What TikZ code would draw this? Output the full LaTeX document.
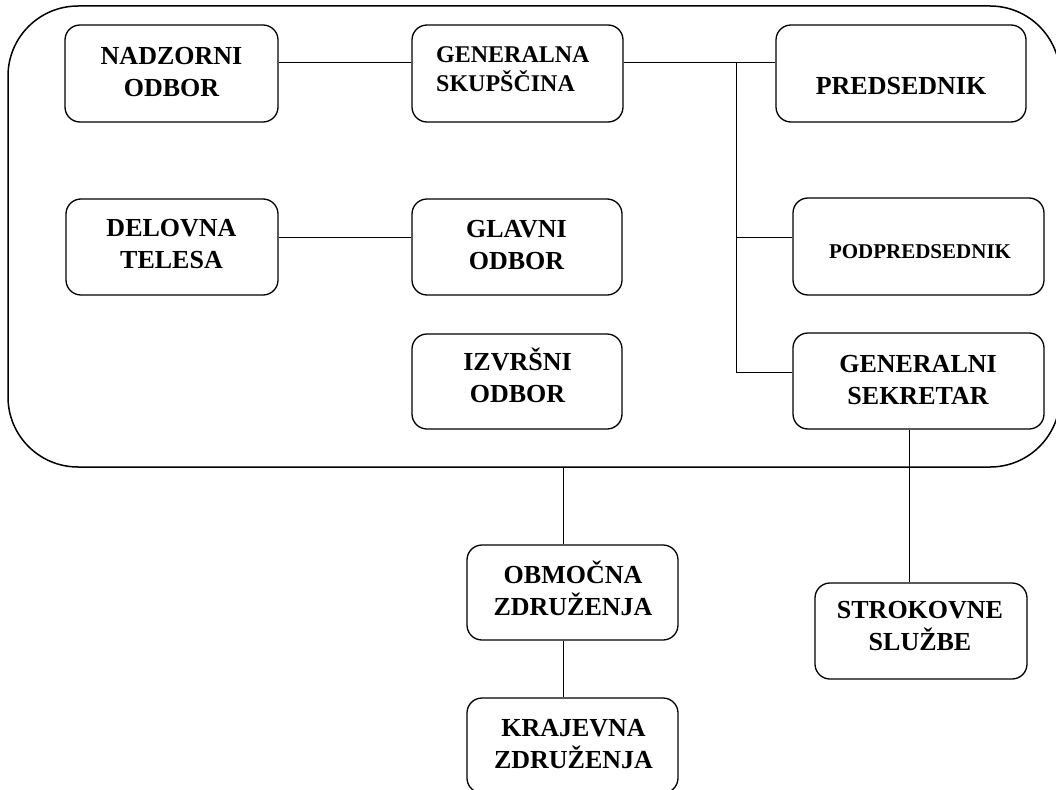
\documentclass[tikz,border=0pt]{standalone}
\usepackage{fontspec}
\setmainfont{Liberation Serif}
\begin{document}
\tikzset{
  box/.style={draw, rounded corners=15pt, line width=1.3pt, inner sep=0pt},
  txt/.style={font=\bfseries\fontsize{26}{32}\selectfont, align=center, inner sep=0pt},
  link/.style={line width=1pt},
}
\begin{tikzpicture}[x=1pt,y=-1pt]
\useasboundingbox (0,0) rectangle (1056,789);
% container
\node[draw, rounded corners=70pt, line width=1.5pt, minimum width=1052pt, minimum height=461pt, inner sep=0pt] (outer) at (534,236.5) {};
% boxes
\node[box, minimum width=213pt, minimum height=97pt] (nad) at (171.5,73.5) {};
\node[box, minimum width=211pt, minimum height=97pt] (gen) at (517.5,73.5) {};
\node[box, minimum width=250pt, minimum height=97pt] (pred) at (901,73.5) {};
\node[box, minimum width=212pt, minimum height=96pt] (del) at (172,247) {};
\node[box, minimum width=210pt, minimum height=96pt] (gla) at (517,247) {};
\node[box, minimum width=251pt, minimum height=97pt] (pod) at (918.5,246.5) {};
\node[box, minimum width=210pt, minimum height=95pt] (izv) at (517,381.5) {};
\node[box, minimum width=251pt, minimum height=96pt] (sek) at (918.5,381) {};
\node[box, minimum width=211pt, minimum height=95pt] (obm) at (572.5,592.5) {};
\node[box, minimum width=211pt, minimum height=95pt] (kra) at (572.5,745.5) {};
\node[box, minimum width=212pt, minimum height=96pt] (str) at (921,631) {};
% texts
\node[txt] (nadt) at (171.5,69) {\vphantom{Š}NADZORNI\\ODBOR};
\node[txt, font=\bfseries\fontsize{24}{29}\selectfont, align=left, anchor=west] (gent) at (436,66.5) {\vphantom{Š}GENERALNA\\SKUPŠČINA};
\node[txt] (predt) at (901,83.5) {\vphantom{Š}PREDSEDNIK};
\node[txt] (delt) at (171.5,241.5) {\vphantom{Š}DELOVNA\\TELESA};
\node[txt] (glat) at (516.5,242.3) {\vphantom{Š}GLAVNI\\ODBOR};
\node[txt, font=\bfseries\fontsize{21}{26}\selectfont] (podt) at (920,249) {\vphantom{Š}PODPREDSEDNIK};
\node[txt] (izvt) at (517.5,375.5) {\vphantom{Š}IZVRŠNI\\ODBOR};
\node[txt] (sekt) at (918,377) {\vphantom{Š}GENERALNI\\SEKRETAR};
\node[txt] (obmt) at (573,588) {\vphantom{Š}OBMOČNA\\ZDRUŽENJA};
\node[txt] (krat) at (573.5,741) {\vphantom{Š}KRAJEVNA\\ZDRUŽENJA};
\node[txt] (strt) at (920,623.5) {\vphantom{Š}STROKOVNE\\SLUŽBE};
% connectors
\draw[link] ([yshift=10.5pt]nad.east) -- ([yshift=10.5pt]gen.west);
\draw[link] ([yshift=10.5pt]gen.east) -- ([yshift=10.5pt]pred.west);
\coordinate (j1) at (736,63);
\coordinate (podin) at ([yshift=9.5pt]pod.west);
\coordinate (sekin) at ([yshift=9pt]sek.west);
\draw[link] (j1) |- (sekin);
\draw[link] (j1 |- podin) -- (podin);
\draw[link] ([yshift=10pt]del.east) -- ([yshift=10pt]gla.west);
\coordinate (vx) at (563,0);
\draw[link] (outer.south -| vx) -- (obm.north -| vx);
\draw[link] (obm.south -| vx) -- (kra.north -| vx);
\coordinate (sx) at (909.5,0);
\draw[link] (sek.south -| sx) -- (str.north -| sx);
\end{tikzpicture}
\end{document}
